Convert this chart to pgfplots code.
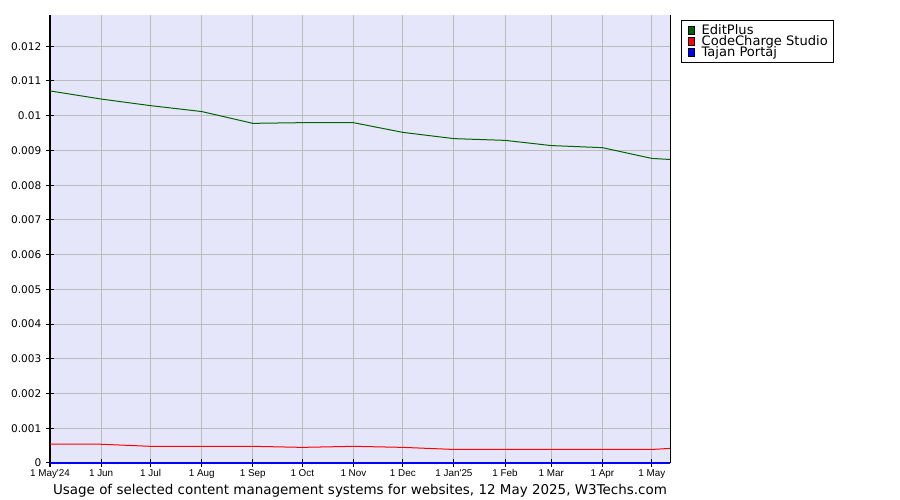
\documentclass[border=0pt]{standalone}
\usepackage{pgfplots}
\pgfplotsset{compat=1.18}
\usepackage{fontspec}
\setmainfont{DejaVu Sans}
\newfontfamily\arialf{Liberation Sans}
\definecolor{bgc}{RGB}{230,230,250}
\definecolor{gridc}{RGB}{187,187,187}
\definecolor{epgreen}{RGB}{0,100,0}
\begin{document}
\begin{tikzpicture}[x=1pt,y=1pt]
\path[use as bounding box] (0,0) rectangle (675,375);
\begin{axis}[
  at={(37.5pt,27.75pt)}, anchor=origin,
  scale only axis, width=465pt, height=336pt,
  xmin=0, xmax=376, ymin=0, ymax=0.0129,
  scaled y ticks=false,
  axis background/.style={fill=bgc},
  axis x line*=bottom, axis y line*=left,
  axis line style={black, line width=0.75pt},
  grid=major, major grid style={gridc, line width=0.75pt},
  xtick={0,31,61,92,123,153,184,214,245,276,304,335,365},
  xticklabels={1 May'24,1 Jun,1 Jul,1 Aug,1 Sep,1 Oct,1 Nov,1 Dec,1 Jan'25,1 Feb,1 Mar,1 Apr,1 May},
  ytick={0,0.001,0.002,0.003,0.004,0.005,0.006,0.007,0.008,0.009,0.010,0.011,0.012},
  yticklabels={0,0.001,0.002,0.003,0.004,0.005,0.006,0.007,0.008,0.009,0.01,0.011,0.012},
  x tick label style={font=\arialf\fontsize{7.4pt}{8pt}\selectfont, text height=5.3pt, text depth=1.5pt, yshift=1.5pt},
  y tick label style={font=\fontsize{7.9pt}{9pt}\selectfont},
  tick align=center, major tick length=6pt,
  tick style={black, line width=0.75pt},
  xlabel={Usage of selected content management systems for websites, 12 May 2025, W3Techs.com},
  xlabel style={font=\fontsize{10.1pt}{11pt}\selectfont, yshift=3pt},
  legend style={at={([xshift=8.25pt,yshift=-3.75pt]rel axis cs:1,1)}, anchor=north west,
    draw=black, line width=0.75pt, font=\fontsize{9.8pt}{10pt}\selectfont,
    inner xsep=4.5pt, inner ysep=3pt, row sep=0pt,
    nodes={inner sep=0pt, text height=7.3pt, text depth=1.2pt},
    cells={anchor=west},
    /tikz/every odd column/.append style={column sep=5.5pt}},
  clip=false,
]
\addplot[epgreen, line width=0.75pt,
  legend image code/.code={\draw[fill=epgreen, draw=black, line width=0.6pt] (0pt,-3pt) rectangle (4.5pt,3pt);}] coordinates {
(0,0.010714) (31,0.01048) (61,0.01029) (92,0.01012) (123,0.00978) (153,0.00980)
(184,0.00980) (214,0.00952) (245,0.00934) (276,0.00929) (304,0.00914) (335,0.00908)
(365,0.00877) (376,0.00874)};
\addlegendentry{EditPlus}
\addplot[red, line width=0.75pt,
  legend image code/.code={\draw[fill=red, draw=black, line width=0.6pt] (0pt,-3pt) rectangle (4.5pt,3pt);}] coordinates {
(0,0.00054) (31,0.00054) (61,0.00048) (92,0.00048) (123,0.00048) (153,0.00045)
(184,0.00048) (214,0.00045) (245,0.00039) (276,0.00039) (304,0.00039) (335,0.00039)
(365,0.00039) (376,0.00042)};
\addlegendentry{CodeCharge Studio}
\addplot[blue, line width=1.5pt,
  legend image code/.code={\draw[fill=blue, draw=black, line width=0.6pt] (0pt,-3pt) rectangle (4.5pt,3pt);}] coordinates {
(0,0.00001) (31,0.00001) (61,0.00001) (92,0.00001) (123,0.00001) (153,0.00001)
(184,0.00001) (214,0.00001) (245,0.00001) (276,0.00001) (304,0.00001) (335,0.00001)
(365,0.00001) (376,0.00001)};
\addlegendentry{Tajan Portaj}
\draw[black, line width=0.75pt] (rel axis cs:1,0) -- (rel axis cs:1,1);
\end{axis}
\end{tikzpicture}
\end{document}
